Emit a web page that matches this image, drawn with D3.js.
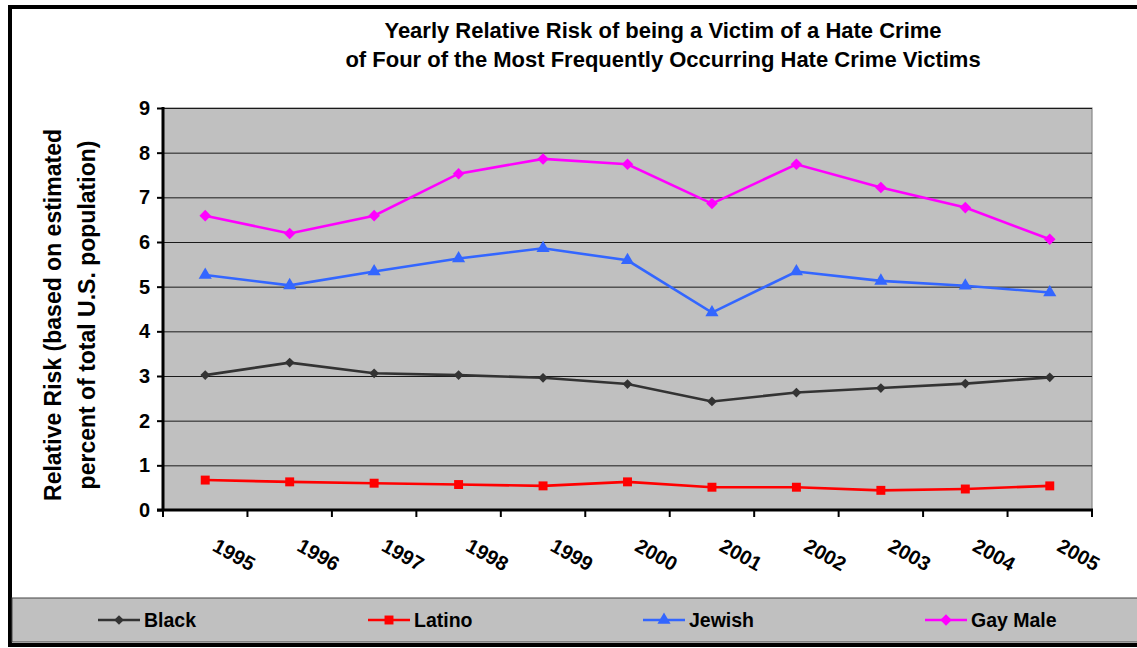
<!DOCTYPE html>
<html>
<head>
<meta charset="utf-8">
<style>
body { margin: 0; background: #fff; }
svg { display: block; font-family: "Liberation Sans", Arial, sans-serif; }
.axis .domain { display: none; }
</style>
</head>
<body>
<svg width="1137" height="648"></svg>
<script src="https://d3js.org/d3.v7.min.js"></script>
<script>

// data
var years = ["1995", "1996", "1997", "1998", "1999", "2000", "2001", "2002", "2003", "2004", "2005"];
var black   = [3.02, 3.30, 3.06, 3.02, 2.96, 2.82, 2.43, 2.63, 2.73, 2.83, 2.97];
var latino  = [0.67, 0.63, 0.60, 0.57, 0.54, 0.63, 0.51, 0.51, 0.44, 0.47, 0.54];
var jewish  = [5.26, 5.03, 5.34, 5.63, 5.86, 5.59, 4.42, 5.34, 5.13, 5.02, 4.87];
var gayMale = [6.59, 6.19, 6.59, 7.53, 7.86, 7.74, 6.86, 7.74, 7.22, 6.77, 6.06];
var yTicks = [0, 1, 2, 3, 4, 5, 6, 7, 8, 9];

var series = [
  {name: "Black",    values: black,   color: "#333333", symbol: d3.symbolDiamond2, size: 60},
  {name: "Latino",   values: latino,  color: "#ff0000", symbol: d3.symbolSquare,   size: 80},
  {name: "Jewish",   values: jewish,  color: "#3366ff", symbol: d3.symbolTriangle, size: 75},
  {name: "Gay Male", values: gayMale, color: "#ff00ff", symbol: d3.symbolDiamond2, size: 85}
];

var svg = d3.select("svg");

// outer frame
svg.append("rect").attr("x", 10).attr("y", 7).attr("width", 1140).attr("height", 638)
    .attr("fill", "#fff").attr("stroke", "#000").attr("stroke-width", 4);

// legend strip
svg.append("rect").attr("x", 12).attr("y", 598).attr("width", 1130).attr("height", 44)
    .attr("fill", "#c0c0c0").attr("stroke", "#444").attr("stroke-width", 1);

var margin = {left: 163, top: 108, right: 1092, bottom: 510};

var x = d3.scaleBand().domain(years).range([margin.left, margin.right]);
var y = d3.scaleLinear().domain([0, 9]).range([margin.bottom, margin.top]);

// plot background
svg.append("rect")
    .attr("x", margin.left).attr("y", margin.top)
    .attr("width", margin.right - margin.left).attr("height", margin.bottom - margin.top)
    .attr("fill", "#c0c0c0").attr("stroke", "#888").attr("stroke-width", 1.2);

// gridlines
svg.append("g").selectAll("line")
  .data(yTicks.slice(1))
  .enter().append("line")
    .attr("x1", margin.left).attr("x2", margin.right)
    .attr("y1", function(d) { return y(d) + 0.5; })
    .attr("y2", function(d) { return y(d) + 0.5; })
    .attr("stroke", "#1a1a1a").attr("stroke-width", 1);

// y axis
var yAxis = svg.append("g")
    .attr("class", "axis")
    .attr("transform", "translate(" + margin.left + ",0)")
    .call(d3.axisLeft(y).tickValues(yTicks).tickSize(6).tickPadding(7));
yAxis.selectAll(".tick line").attr("stroke", "#000").attr("stroke-width", 2);
yAxis.selectAll("text").attr("font-size", 20).attr("font-weight", "bold").attr("fill", "#000")
    .attr("font-family", "Liberation Sans, Arial, sans-serif");
svg.append("line").attr("x1", margin.left).attr("x2", margin.left)
    .attr("y1", margin.top - 1).attr("y2", margin.bottom + 1)
    .attr("stroke", "#000").attr("stroke-width", 3);

// x axis: ticks on band edges
var xEdges = years.map(function(d) { return x(d); }).concat([margin.right]);
svg.append("g").selectAll("line")
  .data(xEdges)
  .enter().append("line")
    .attr("x1", function(d) { return d; }).attr("x2", function(d) { return d; })
    .attr("y1", margin.bottom).attr("y2", margin.bottom + 7)
    .attr("stroke", "#000").attr("stroke-width", 2);
svg.append("line").attr("x1", margin.left - 6).attr("x2", margin.right + 1)
    .attr("y1", margin.bottom).attr("y2", margin.bottom)
    .attr("stroke", "#000").attr("stroke-width", 3);

svg.append("g").selectAll("text")
  .data(years)
  .enter().append("text")
    .attr("transform", function(d) {
      return "translate(" + (x(d) + x.bandwidth() / 2 + 6) + ",550) rotate(29)";
    })
    .attr("font-size", 20).attr("font-weight", "bold").attr("fill", "#000")
    .text(function(d) { return d; });

// lines and markers
var line = d3.line()
    .x(function(d, i) { return x(years[i]) + x.bandwidth() / 2; })
    .y(function(d) { return y(d); });

var sg = svg.append("g").selectAll("g")
  .data(series)
  .enter().append("g");

sg.append("path")
    .attr("d", function(s) { return line(s.values); })
    .attr("fill", "none")
    .attr("stroke", function(s) { return s.color; })
    .attr("stroke-width", 2.6);

sg.each(function(s) {
  d3.select(this).selectAll("path.pt")
    .data(s.values)
    .enter().append("path")
      .attr("class", "pt")
      .attr("d", d3.symbol().type(s.symbol).size(s.size))
      .attr("transform", function(d, i) {
        return "translate(" + (x(years[i]) + x.bandwidth() / 2) + "," + y(d) + ")";
      })
      .attr("fill", s.color);
});

// title
var title = svg.append("text")
    .attr("x", 663).attr("text-anchor", "middle")
    .attr("font-size", 22).attr("font-weight", "bold").attr("fill", "#000");
title.append("tspan").attr("x", 663).attr("y", 38).text("Yearly Relative Risk of being a Victim of a Hate Crime");
title.append("tspan").attr("x", 663).attr("y", 67).text("of Four of the Most Frequently Occurring Hate Crime Victims");

// y axis title
var yt = svg.append("text")
    .attr("transform", "translate(0,315) rotate(-90)")
    .attr("text-anchor", "middle")
    .attr("font-size", 23).attr("font-weight", "bold").attr("fill", "#000");
yt.append("tspan").attr("x", 0).attr("y", 61).text("Relative Risk (based on estimated");
yt.append("tspan").attr("x", 0).attr("y", 95).text("percent of total U.S. population)");

// legend
var legendX = [98, 368, 643, 925];
var legend = svg.append("g").selectAll("g")
  .data(series)
  .enter().append("g")
    .attr("transform", function(d, i) { return "translate(" + legendX[i] + ",620)"; });

legend.append("line")
    .attr("x1", 0).attr("x2", 42)
    .attr("stroke", function(d) { return d.color; })
    .attr("stroke-width", 2.6);
legend.append("path")
    .attr("transform", "translate(21,0)")
    .attr("d", function(d) { return d3.symbol().type(d.symbol).size(d.size)(); })
    .attr("fill", function(d) { return d.color; });
legend.append("text")
    .attr("x", 46).attr("dy", "0.35em")
    .attr("font-size", 19.5).attr("font-weight", "bold").attr("fill", "#000")
    .text(function(d) { return d.name; });

</script>
</body>
</html>
